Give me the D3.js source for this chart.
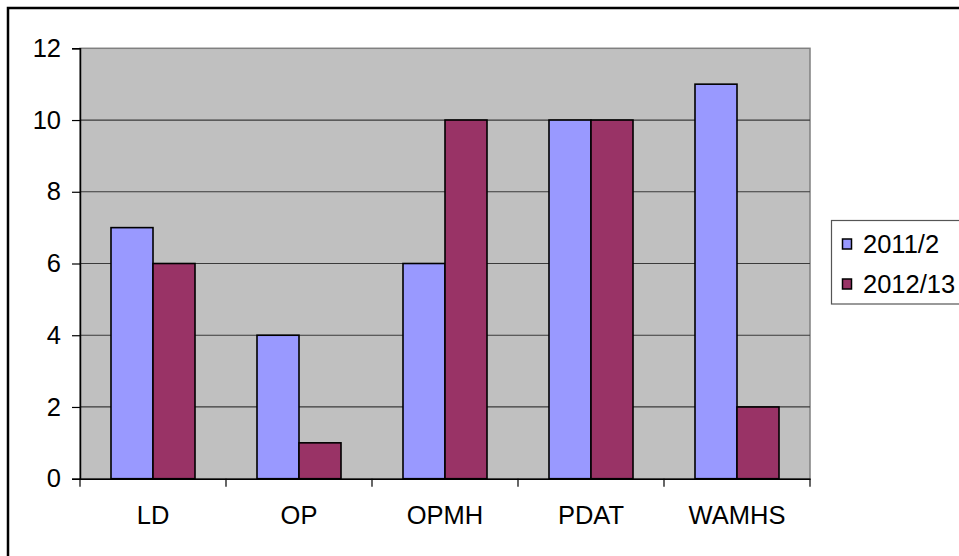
<!DOCTYPE html>
<html><head><meta charset="utf-8">
<script src="https://cdn.jsdelivr.net/npm/d3@7"></script>
<style>body{margin:0;background:#fff}svg{display:block}text{font-family:"Liberation Sans",Arial,sans-serif;fill:#000}</style>
</head><body>
<svg id="c" width="959" height="556"></svg>
<script>
const categories = ["LD","OP","OPMH","PDAT","WAMHS"];
const seriesNames = ["2011/2","2012/13"];
const values2011 = [7,4,6,10,11];
const values2012 = [6,1,10,10,2];
const yTicks = [0,2,4,6,8,10,12];
const colors = ["#9999FF","#993366"];

const svg = d3.select("#c");
const L=80,R=810,T=48.3,B=478.7;
const fs = 25.5;

// outer border
svg.append("rect").attr("x",8).attr("y",8).attr("width",960).attr("height",560)
  .attr("fill","none").attr("stroke","#000").attr("stroke-width",2.5);

const x0 = d3.scaleBand().domain(categories).range([L,R]).padding(0);
const x1 = d3.scaleBand().domain(seriesNames).range([0,x0.bandwidth()]).paddingInner(0).paddingOuter(0.738);
const y = d3.scaleLinear().domain([0,12]).range([B,T]);

// plot area
svg.append("rect").attr("x",L).attr("y",T).attr("width",R-L).attr("height",B-T)
  .attr("fill","#C0C0C0").attr("stroke","#808080").attr("stroke-width",1.5);

// gridlines
svg.append("g").selectAll("line").data(yTicks.filter(d=>d>0&&d<12)).join("line")
  .attr("x1",L).attr("x2",R).attr("y1",d=>y(d)).attr("y2",d=>y(d))
  .attr("stroke","#3a3a3a").attr("stroke-width",1.2);

// bars
const data = categories.map((c,i)=>({c, vals:[values2011[i],values2012[i]]}));
const g = svg.append("g");
data.forEach(d=>{
  d.vals.forEach((v,j)=>{
    g.append("rect")
      .attr("x",x0(d.c)+x1(seriesNames[j]))
      .attr("y",y(v))
      .attr("width",x1.bandwidth())
      .attr("height",y(0)-y(v))
      .attr("fill",colors[j]).attr("stroke","#000").attr("stroke-width",1.6);
  });
});

// y axis
const yAxis = d3.axisLeft(y).tickValues(yTicks).tickSize(8).tickPadding(11).tickFormat(d3.format("d"));
const ya = svg.append("g").attr("transform",`translate(${L},0)`).call(yAxis);
ya.select(".domain").attr("stroke","#000").attr("stroke-width",1.5);
ya.selectAll(".tick line").attr("stroke","#000").attr("stroke-width",1.2);
ya.selectAll(".tick text").attr("font-size",fs).attr("font-family","Liberation Sans, Arial, sans-serif").attr("fill","#000");

// x axis
const xAxis = d3.axisBottom(x0).tickSize(0).tickPadding(27);
const xa = svg.append("g").attr("transform",`translate(0,${B})`).call(xAxis);
xa.select(".domain").attr("stroke","#000").attr("stroke-width",1.5);
xa.selectAll(".tick text").attr("font-size",fs).attr("font-family","Liberation Sans, Arial, sans-serif").attr("fill","#000");
// category boundary ticks
svg.append("g").selectAll("line").data(categories.map(c=>x0(c)).concat([R])).join("line")
  .attr("x1",d=>d).attr("x2",d=>d).attr("y1",B).attr("y2",B+8)
  .attr("stroke","#000").attr("stroke-width",1.2);

// legend
svg.append("rect").attr("x",831.5).attr("y",220.5).attr("width",140).attr("height",83.5)
  .attr("fill","#fff").attr("stroke","#555").attr("stroke-width",1.2);
seriesNames.forEach((s,j)=>{
  const cy = 244 + j*40;
  svg.append("rect").attr("x",842.5).attr("y",cy-5).attr("width",9).attr("height",10)
    .attr("fill",colors[j]).attr("stroke","#000").attr("stroke-width",1.5);
  svg.append("text").attr("x",863).attr("y",cy+8.5).attr("font-size",fs).text(s);
});
</script>
</body></html>
